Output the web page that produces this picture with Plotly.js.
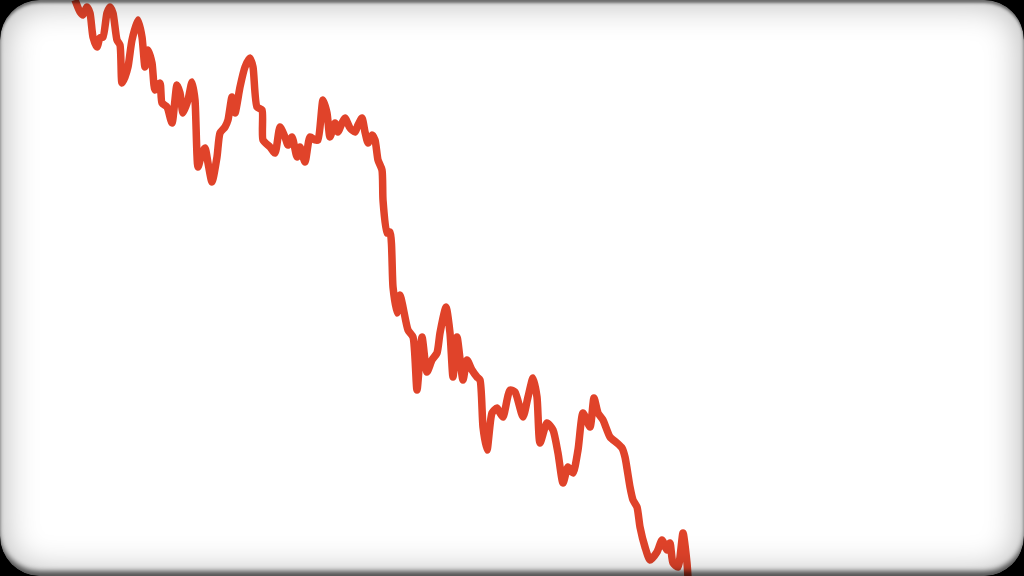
<!DOCTYPE html>
<html>
<head>
<meta charset="utf-8">
<script src="https://cdn.plot.ly/plotly-3.0.1.min.js"></script>
<style>
  html, body { margin:0; padding:0; width:1024px; height:576px; background:#000; overflow:hidden; }
  #frame { position:absolute; left:0; top:0; width:1024px; height:576px; background:#fff; border-radius:40px; }
  #chart { position:absolute; left:0; top:0; width:1024px; height:576px; filter: blur(0.7px); }
  #vig { position:absolute; left:0; top:0; width:1024px; height:576px; border-radius:40px; pointer-events:none;
         box-shadow: 0 0 0 60px #000, inset 0 0 34px 4px rgba(0,0,0,0.28), inset 0 4px 3px -1px rgba(0,0,0,0.5), inset 0 -6px 5px -1px rgba(0,0,0,0.6); }
</style>
</head>
<body>
<div id="frame"></div>
<div id="chart"></div>
<div id="vig"></div>
<script>
// time index (arbitrary units) and price level (arbitrary units)
const timeIdx = [75,80,83,87,90,93,97,100,103,107,110,113,117,120,122,125,128,132,138,142,145,148,152,155,160,162,167,172,177,180,183,188,192,195,198,202,205,208,212,217,220,225,228,232,235,240,245,250,253,257,262,263,270,275,280,285,288,292,297,300,305,310,315,318,323,327,330,335,338,342,345,350,355,358,362,365,368,372,375,378,382,383,387,390,393,397,400,403,408,413,417,422,427,432,437,440,446,450,453,457,463,467,472,477,480,483,487,492,497,500,503,510,515,523,528,533,537,540,547,553,558,563,568,573,578,583,590,594,598,603,610,617,622,625,630,633,637,640,645,650,657,662,667,670,673,678,683,687,688];
const pixelY = [0,12,15,7,13,37,47,38,37,13,7,13,40,45,83,77,67,40,20,37,67,50,63,90,83,103,107,123,85,93,113,100,82,100,167,153,148,163,182,157,133,127,120,97,113,87,67,58,67,107,110,140,147,153,127,137,145,137,157,147,162,137,140,140,100,113,137,123,132,123,118,128,132,125,118,132,143,135,140,160,170,200,233,232,287,313,295,307,330,337,390,337,372,360,353,333,307,333,377,337,380,360,370,377,380,427,450,413,408,413,417,390,392,417,397,378,397,443,423,430,453,483,467,473,450,413,427,398,413,420,437,443,448,457,487,500,507,527,547,560,552,540,550,543,563,567,533,563,578];
const level = pixelY.map(v => 576 - v);

const trace = {
  x: timeIdx, y: level, type:'scatter', mode:'lines',
  line: { color:'#e0432a', width:7.5, shape:'spline', smoothing:0.6 },
  hoverinfo:'skip'
};
const layout = {
  width:1024, height:576,
  margin:{l:0,r:0,t:0,b:0},
  paper_bgcolor:'rgba(0,0,0,0)', plot_bgcolor:'rgba(0,0,0,0)',
  showlegend:false,
  xaxis:{range:[0,1024], visible:false, fixedrange:true},
  yaxis:{range:[0,576], visible:false, fixedrange:true}
};
Plotly.newPlot('chart', [trace], layout, {displayModeBar:false, staticPlot:true});
</script>
</body>
</html>
